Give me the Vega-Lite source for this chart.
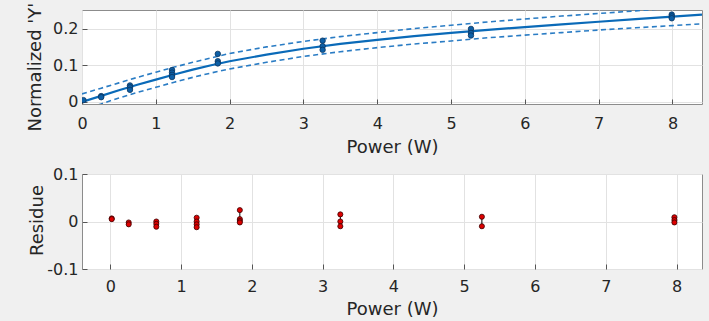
{
  "$schema": "https://vega.github.io/schema/vega-lite/v6.json",
  "padding": {"left": 25, "top": 1, "right": 12, "bottom": 12},
  "background": "#f0f0f0",
  "spacing": 70,
  "bounds": "flush",
  "config": {
    "font": "DejaVu Sans",
    "view": {"fill": "white", "stroke": "#8c8c8c", "strokeWidth": 1},
    "axis": {
      "domain": false,
      "grid": true,
      "gridColor": "#e2e2e2",
      "gridWidth": 1,
      "ticks": true,
      "tickColor": "#555555",
      "tickSize": -5,
      "labelFlush": false,
      "labelColor": "#262626",
      "labelFont": "DejaVu Sans",
      "labelFontSize": 16,
      "titleColor": "#262626",
      "titleFont": "DejaVu Sans",
      "titleFontSize": 18,
      "titleFontWeight": "normal"
    }
  },
  "datasets": {
    "pts": [
      {"x": 0.02, "y": 0.005},
      {"x": 0.26, "y": 0.016}, {"x": 0.26, "y": 0.013},
      {"x": 0.65, "y": 0.045}, {"x": 0.65, "y": 0.040}, {"x": 0.65, "y": 0.033},
      {"x": 1.22, "y": 0.087}, {"x": 1.22, "y": 0.080}, {"x": 1.22, "y": 0.074}, {"x": 1.22, "y": 0.068},
      {"x": 1.84, "y": 0.131}, {"x": 1.84, "y": 0.111}, {"x": 1.84, "y": 0.105},
      {"x": 3.26, "y": 0.167}, {"x": 3.26, "y": 0.152}, {"x": 3.26, "y": 0.142},
      {"x": 5.27, "y": 0.199}, {"x": 5.27, "y": 0.188}, {"x": 5.27, "y": 0.181},
      {"x": 7.99, "y": 0.238}, {"x": 7.99, "y": 0.233}, {"x": 7.99, "y": 0.228}
    ],
    "fit": [
      {"x": 0, "fit": 0.0, "upper": 0.022, "lower": -0.022},
      {"x": 0.25, "fit": 0.016, "upper": 0.037, "lower": -0.006},
      {"x": 0.5, "fit": 0.032, "upper": 0.052, "lower": 0.011},
      {"x": 0.75, "fit": 0.047, "upper": 0.067, "lower": 0.026},
      {"x": 1.0, "fit": 0.061, "upper": 0.081, "lower": 0.040},
      {"x": 1.25, "fit": 0.075, "upper": 0.095, "lower": 0.054},
      {"x": 1.5, "fit": 0.088, "upper": 0.108, "lower": 0.067},
      {"x": 1.75, "fit": 0.100, "upper": 0.120, "lower": 0.079},
      {"x": 2.0, "fit": 0.111, "upper": 0.132, "lower": 0.090},
      {"x": 2.5, "fit": 0.129, "upper": 0.150, "lower": 0.108},
      {"x": 3.0, "fit": 0.145, "upper": 0.165, "lower": 0.124},
      {"x": 3.5, "fit": 0.158, "upper": 0.178, "lower": 0.137},
      {"x": 4.0, "fit": 0.169, "upper": 0.189, "lower": 0.148},
      {"x": 4.5, "fit": 0.1795, "upper": 0.200, "lower": 0.158},
      {"x": 5.0, "fit": 0.188, "upper": 0.209, "lower": 0.166},
      {"x": 5.5, "fit": 0.1965, "upper": 0.218, "lower": 0.175},
      {"x": 6.0, "fit": 0.204, "upper": 0.226, "lower": 0.182},
      {"x": 6.5, "fit": 0.2115, "upper": 0.234, "lower": 0.189},
      {"x": 7.0, "fit": 0.2185, "upper": 0.241, "lower": 0.196},
      {"x": 7.5, "fit": 0.2255, "upper": 0.248, "lower": 0.202},
      {"x": 8.0, "fit": 0.2325, "upper": 0.256, "lower": 0.208},
      {"x": 8.4, "fit": 0.238, "upper": 0.262, "lower": 0.213}
    ],
    "res": [
      {"x": 0.02, "r": 0.0065}, {"x": 0.02, "r": 0.005},
      {"x": 0.26, "r": -0.002}, {"x": 0.26, "r": -0.006},
      {"x": 0.65, "r": 0.0}, {"x": 0.65, "r": -0.005}, {"x": 0.65, "r": -0.011},
      {"x": 1.22, "r": 0.008}, {"x": 1.22, "r": 0.0}, {"x": 1.22, "r": -0.006}, {"x": 1.22, "r": -0.012},
      {"x": 1.83, "r": 0.024}, {"x": 1.83, "r": 0.005}, {"x": 1.83, "r": 0.001}, {"x": 1.83, "r": -0.002},
      {"x": 3.25, "r": 0.015}, {"x": 3.25, "r": 0.0}, {"x": 3.25, "r": -0.01},
      {"x": 5.25, "r": 0.010}, {"x": 5.25, "r": -0.010},
      {"x": 7.97, "r": 0.009}, {"x": 7.97, "r": 0.003}, {"x": 7.97, "r": -0.002}
    ]
  },
  "vconcat": [
    {
      "width": 620,
      "height": 94,
      "layer": [
        {
          "data": {"name": "fit"},
          "mark": {"type": "line", "clip": true, "color": "#2a7cc4", "strokeWidth": 1.6, "strokeDash": [5, 3.5]},
          "encoding": {
            "x": {"field": "x", "type": "quantitative", "scale": {"domain": [0, 8.4], "nice": false, "zero": false},
              "axis": {"values": [0, 1, 2, 3, 4, 5, 6, 7, 8], "format": "d", "title": "Power (W)", "labelPadding": 16, "titleY": 48, "titleBaseline": "alphabetic"}},
            "y": {"field": "upper", "type": "quantitative", "scale": {"domain": [-0.0055, 0.2505], "nice": false, "zero": false},
              "axis": {"values": [0, 0.1, 0.2], "labelExpr": "'' + datum.value", "labelPadding": 9, "title": "Normalized 'Y'",
                "titleAngle": 270, "titleAlign": "left", "titleBaseline": "alphabetic", "titleX": -42, "titleY": 121}}
          }
        },
        {
          "data": {"name": "fit"},
          "mark": {"type": "line", "clip": true, "color": "#2a7cc4", "strokeWidth": 1.6, "strokeDash": [5, 3.5]},
          "encoding": {
            "x": {"field": "x", "type": "quantitative"},
            "y": {"field": "lower", "type": "quantitative"}
          }
        },
        {
          "data": {"name": "fit"},
          "mark": {"type": "line", "clip": true, "color": "#0a6ab8", "strokeWidth": 2.2},
          "encoding": {
            "x": {"field": "x", "type": "quantitative"},
            "y": {"field": "fit", "type": "quantitative"}
          }
        },
        {
          "data": {"name": "pts"},
          "mark": {"type": "circle", "clip": true, "size": 30, "fill": "#0d5fa6", "stroke": "#0a3560", "strokeWidth": 0.8, "opacity": 1},
          "encoding": {
            "x": {"field": "x", "type": "quantitative"},
            "y": {"field": "y", "type": "quantitative"}
          }
        }
      ]
    },
    {
      "width": 620,
      "height": 95,
      "layer": [
        {
          "mark": {"type": "rule", "color": "#a8a8a8", "strokeWidth": 2},
          "encoding": {
            "y": {"datum": 0, "type": "quantitative", "scale": {"domain": [-0.1, 0.1], "nice": false, "zero": false},
              "axis": {"values": [-0.1, 0, 0.1], "labelExpr": "'' + datum.value", "labelPadding": 9, "title": "Residue",
                "titleAngle": 270, "titleAlign": "center", "titleBaseline": "alphabetic", "titleX": -40, "titleY": 46}}
          }
        },
        {
          "data": {"name": "res"},
          "transform": [{"aggregate": [{"op": "min", "field": "r", "as": "rmin"}, {"op": "max", "field": "r", "as": "rmax"}], "groupby": ["x"]}],
          "mark": {"type": "rule", "color": "#000000", "strokeWidth": 1},
          "encoding": {
            "x": {"field": "x", "type": "quantitative", "scale": {"domain": [-0.4, 8.36], "nice": false, "zero": false},
              "axis": {"values": [0, 1, 2, 3, 4, 5, 6, 7, 8], "format": "d", "title": "Power (W)", "labelPadding": 14, "titleY": 45, "titleBaseline": "alphabetic"}},
            "y": {"field": "rmin", "type": "quantitative"},
            "y2": {"field": "rmax"}
          }
        },
        {
          "data": {"name": "res"},
          "mark": {"type": "circle", "size": 26, "fill": "#dd0000", "stroke": "#3a0000", "strokeWidth": 0.8, "opacity": 1},
          "encoding": {
            "x": {"field": "x", "type": "quantitative"},
            "y": {"field": "r", "type": "quantitative"}
          }
        }
      ]
    }
  ]
}
